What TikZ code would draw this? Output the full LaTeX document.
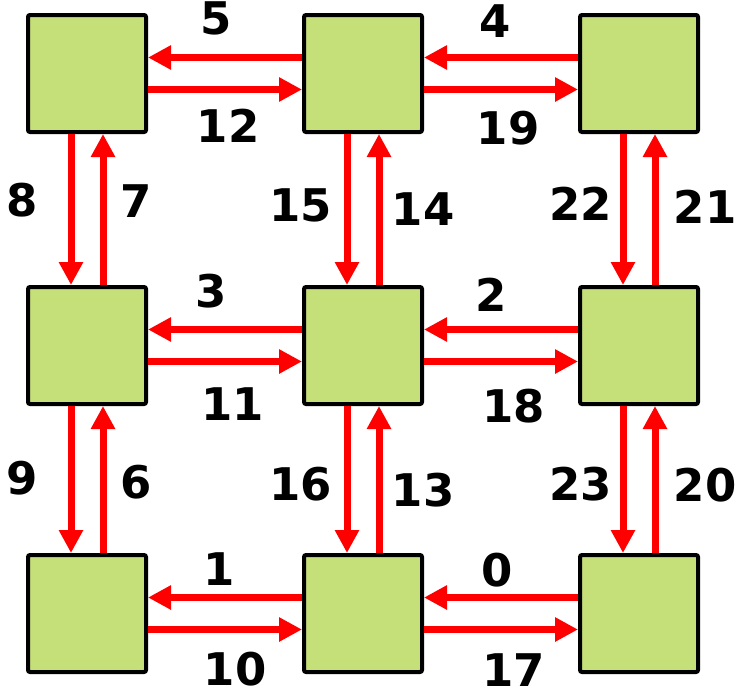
\documentclass[tikz,border=0pt]{standalone}
\usepackage{fontspec}
\setmainfont{DejaVu Sans}
\usepackage{xcolor}
\usetikzlibrary{arrows.meta, positioning}

\definecolor{cellgreen}{RGB}{198,224,121}
\definecolor{linkred}{RGB}{255,0,0}

\begin{document}
\begin{tikzpicture}[
    x=1pt, y=1pt,
    node distance=151pt and 154pt,
    cell/.style = {rectangle, draw=black, line width=4pt, rounded corners=2pt,
                   fill=cellgreen, minimum width=118pt, minimum height=117pt},
    link/.style = {-{Triangle[length=23pt, width=23pt]}, line width=7pt,
                   draw=linkred},
    lbl/.style  = {font=\fontsize{45}{45}\selectfont\bfseries, inner sep=0pt,
                   text=black}
]
\useasboundingbox (0,0) rectangle (736,-696);

% ========= cells =========
\node[cell] (c11) at (87,-73.5) {};
\node[cell, right=of c11]           (c12) {};
\node[cell, right=of c12]           (c13) {};
\node[cell, below=of c11]           (c21) {};
\node[cell, right=of c21]           (c22) {};
\node[cell, right=of c22]           (c23) {};
\node[cell, below=147pt of c21]     (c31) {};
\node[cell, right=of c31]           (c32) {};
\node[cell, right=of c32]           (c33) {};

% ========= horizontal links =========
\draw[link] ([yshift=16pt]c12.west)  -- ([yshift=16pt]c11.east)
    node[lbl, midway, xshift=-9pt,  yshift=39pt] (n5) {5};
\draw[link] ([yshift=-16pt]c11.east) -- ([yshift=-16pt]c12.west)
    node[lbl, midway, xshift=3pt,   yshift=-36pt]  (n12) {12};
\draw[link] ([yshift=16pt]c13.west)  -- ([yshift=16pt]c12.east)
    node[lbl, midway, xshift=-6pt,  yshift=36pt]   (n4) {4};
\draw[link] ([yshift=-16pt]c12.east) -- ([yshift=-16pt]c13.west)
    node[lbl, midway, xshift=7pt,   yshift=-39pt]  (n19) {19};

\draw[link] ([yshift=16pt]c22.west)  -- ([yshift=16pt]c21.east)
    node[lbl, midway, xshift=-13.5pt, yshift=38pt] (n3) {3};
\draw[link] ([yshift=-16pt]c21.east) -- ([yshift=-16pt]c22.west)
    node[lbl, midway, xshift=7.5pt, yshift=-43pt]  (n11) {11};
\draw[link] ([yshift=16pt]c23.west)  -- ([yshift=16pt]c22.east)
    node[lbl, midway, xshift=-9.5pt, yshift=35pt]  (n2) {2};
\draw[link] ([yshift=-16pt]c22.east) -- ([yshift=-16pt]c23.west)
    node[lbl, midway, xshift=12.5pt, yshift=-45pt] (n18) {18};

\draw[link] ([yshift=16pt]c32.west)  -- ([yshift=16pt]c31.east)
    node[lbl, midway, xshift=-5.5pt, yshift=28pt]  (n1) {1};
\draw[link] ([yshift=-16pt]c31.east) -- ([yshift=-16pt]c32.west)
    node[lbl, midway, xshift=10pt,  yshift=-40pt]  (n10) {10};
\draw[link] ([yshift=16pt]c33.west)  -- ([yshift=16pt]c32.east)
    node[lbl, midway, xshift=-3.5pt, yshift=27pt]  (n0) {0};
\draw[link] ([yshift=-16pt]c32.east) -- ([yshift=-16pt]c33.west)
    node[lbl, midway, xshift=12.5pt, yshift=-41pt] (n17) {17};

% ========= vertical links =========
\draw[link] ([xshift=-16pt]c11.south) -- ([xshift=-16pt]c21.north)
    node[lbl, midway, xshift=-49pt, yshift=9.5pt]  (n8) {8};
\draw[link] ([xshift=16pt]c21.north)  -- ([xshift=16pt]c11.south)
    node[lbl, midway, xshift=33pt,  yshift=8pt]    (n7) {7};
\draw[link] ([xshift=-16pt]c12.south) -- ([xshift=-16pt]c22.north)
    node[lbl, midway, xshift=-46.5pt, yshift=4.5pt] (n15) {15};
\draw[link] ([xshift=16pt]c22.north)  -- ([xshift=16pt]c12.south)
    node[lbl, midway, xshift=44pt,  yshift=0pt]    (n14) {14};
\draw[link] ([xshift=-16pt]c13.south) -- ([xshift=-16pt]c23.north)
    node[lbl, midway, xshift=-42.5pt, yshift=5.5pt] (n22) {22};
\draw[link] ([xshift=16pt]c23.north)  -- ([xshift=16pt]c13.south)
    node[lbl, midway, xshift=50pt, yshift=3pt]     (n21) {21};

\draw[link] ([xshift=-16pt]c21.south) -- ([xshift=-16pt]c31.north)
    node[lbl, midway, xshift=-49pt, yshift=1pt]    (n9) {9};
\draw[link] ([xshift=16pt]c31.north)  -- ([xshift=16pt]c21.south)
    node[lbl, midway, xshift=33pt,  yshift=-2.5pt] (n6) {6};
\draw[link] ([xshift=-16pt]c22.south) -- ([xshift=-16pt]c32.north)
    node[lbl, midway, xshift=-46.5pt, yshift=-5pt] (n16) {16};
\draw[link] ([xshift=16pt]c32.north)  -- ([xshift=16pt]c22.south)
    node[lbl, midway, xshift=44pt,  yshift=-10.5pt] (n13) {13};
\draw[link] ([xshift=-16pt]c23.south) -- ([xshift=-16pt]c33.north)
    node[lbl, midway, xshift=-42.5pt, yshift=-4.5pt] (n23) {23};
\draw[link] ([xshift=16pt]c33.north)  -- ([xshift=16pt]c23.south)
    node[lbl, midway, xshift=50pt, yshift=-6pt]    (n20) {20};

\end{tikzpicture}
\end{document}
